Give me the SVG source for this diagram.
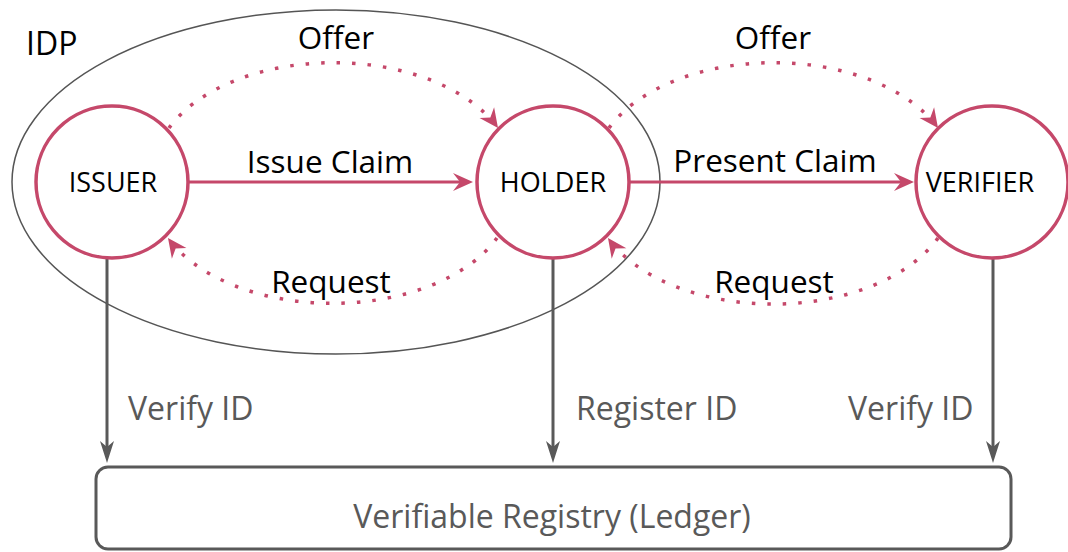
<svg xmlns="http://www.w3.org/2000/svg" width="1068" height="552" viewBox="0 0 1068 552">
<style>
.node{fill:#fff;stroke:#C5486A;stroke-width:3.5}
.lbl{font-family:"Open Sans",sans-serif;fill:#000;font-size:31.5px}
.nlbl{font-family:"Open Sans",sans-serif;fill:#000;font-size:27px;text-anchor:middle}
.glbl{font-family:"Open Sans",sans-serif;fill:#595959;font-size:32px}
.solid{fill:none;stroke:#C5486A;stroke-width:3}
.dot{fill:none;stroke:#C5486A;stroke-width:3.5;stroke-dasharray:3.5 12}
.gray{fill:none;stroke:#595959;stroke-width:3}
</style>
<defs>
<marker id="pa" viewBox="-21 -10 22 20" markerWidth="22" markerHeight="20" refX="-13" refY="0" orient="auto" markerUnits="userSpaceOnUse">
<path d="M0,0 L-20,-9 L-13,0 L-20,9 Z" fill="#C5486A"/>
</marker>
<marker id="pd" viewBox="-21 -10 22 20" markerWidth="22" markerHeight="20" refX="0" refY="0" orient="auto" markerUnits="userSpaceOnUse">
<path d="M0,0 L-19,-9 L-13,0 L-19,9 Z" fill="#C5486A"/>
</marker>
<marker id="ga" viewBox="-23 -9 24 18" markerWidth="24" markerHeight="18" refX="-16" refY="0" orient="auto" markerUnits="userSpaceOnUse">
<path d="M0,0 L-22,-7 L-16,0 L-22,7 Z" fill="#595959"/>
</marker>
</defs>

<g id="idp">
<ellipse cx="336" cy="182" rx="324" ry="172" fill="none" stroke="#555" stroke-width="1.5"/>
<text class="lbl" x="26" y="55" style="font-size:32px">IDP</text>
</g>

<g id="connectors">
<path class="solid" d="M189,182 L460,182" marker-end="url(#pa)"/>
<path class="solid" d="M629,182 L901,182" marker-end="url(#pa)"/>
<path class="dot" d="M169,128 A180,110 0 0 1 498,128" marker-end="url(#pd)"/>
<path class="dot" d="M609,128 A180,110 0 0 1 938,128" marker-end="url(#pd)"/>
<path class="dot" d="M497,238 A180,110 0 0 1 168,238" marker-end="url(#pd)"/>
<path class="dot" d="M938,238 A180,110 0 0 1 608,238" marker-end="url(#pd)"/>
<path class="gray" d="M107,258 L107,447" marker-end="url(#ga)"/>
<path class="gray" d="M553,258 L553,447" marker-end="url(#ga)"/>
<path class="gray" d="M993,258 L993,447" marker-end="url(#ga)"/>
<text class="lbl" x="336" y="49" text-anchor="middle">Offer</text>
<text class="lbl" x="773" y="49" text-anchor="middle">Offer</text>
<text class="lbl" x="330" y="173" text-anchor="middle">Issue Claim</text>
<text class="lbl" x="775" y="172" text-anchor="middle">Present Claim</text>
<text class="lbl" x="331" y="293" text-anchor="middle">Request</text>
<text class="lbl" x="774" y="293" text-anchor="middle">Request</text>
<text class="glbl" x="128" y="420">Verify ID</text>
<text class="glbl" x="576" y="420">Register ID</text>
<text class="glbl" x="848" y="420">Verify ID</text>
</g>

<g id="issuer">
<circle class="node" cx="112" cy="182" r="76"/>
<text class="nlbl" x="113" y="192">ISSUER</text>
</g>
<g id="holder">
<circle class="node" cx="553" cy="182" r="76"/>
<text class="nlbl" x="553" y="192">HOLDER</text>
</g>
<g id="verifier">
<circle class="node" cx="992" cy="182" r="76"/>
<text class="nlbl" x="980" y="192">VERIFIER</text>
</g>
<g id="registry">
<rect x="96" y="467" width="915" height="82" rx="12" fill="#fff" stroke="#595959" stroke-width="3"/>
<text class="glbl" x="552" y="528" text-anchor="middle">Verifiable Registry (Ledger)</text>
</g>
</svg>
